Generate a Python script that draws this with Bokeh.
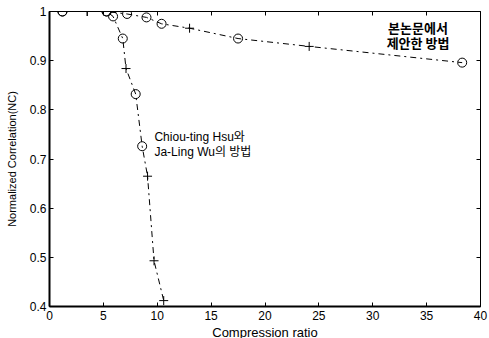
from bokeh.plotting import figure
from bokeh.models import ColumnDataSource, LinearAxis, FixedTicker, Range1d, CustomLabelingPolicy
from bokeh.core.properties import value
from bokeh.embed import file_html
from bokeh.resources import INLINE

# Proposed method (본논문에서 제안한 방법)
prop_x = [1.2, 3.5, 5.3, 7.2, 9.0, 10.4, 13.0, 17.5, 24.1, 38.3]
prop_y = [1.0, 1.0, 1.0, 0.995, 0.988, 0.975, 0.966, 0.945, 0.929, 0.896]
prop_marker = ["circle", "cross", "circle", "circle", "circle", "circle", "cross", "circle", "cross", "circle"]

# Chiou-ting Hsu & Ja-Ling Wu method
hsu_x = [1.2, 3.5, 5.3, 5.9, 6.8, 7.1, 8.0, 8.6, 9.1, 9.7, 10.6]
hsu_y = [1.0, 1.0, 1.0, 0.99, 0.945, 0.884, 0.832, 0.726, 0.665, 0.493, 0.412]
hsu_marker = ["circle", "cross", "circle", "circle", "circle", "cross", "circle", "circle", "cross", "cross", "cross"]

x_ticks = [0, 5, 10, 15, 20, 25, 30, 35, 40]
y_ticks = [0.4, 0.5, 0.6, 0.7, 0.8, 0.9, 1.0]
y_tick_labels = {0.4: "0.4", 0.5: "0.5", 0.6: "0.6", 0.7: "0.7", 0.8: "0.8", 0.9: "0.9", 1.0: "1"}

FONT = "Liberation Sans"
MIXFONT = "Liberation Sans, Noto Sans CJK KR"
KFONT = "Noto Sans CJK KR"

p = figure(frame_width=431, frame_height=295, output_backend="svg", toolbar_location=None,
           x_range=Range1d(0, 40), y_range=Range1d(0.4, 1.0),
           min_border_left=49, min_border_right=8, min_border_top=9, min_border_bottom=34,
           background_fill_color="white", border_fill_color="white")
p.grid.visible = False
p.outline_line_color = "black"
p.outline_line_width = 1

p.xaxis.ticker = FixedTicker(ticks=x_ticks)
p.yaxis.ticker = FixedTicker(ticks=y_ticks)
p.yaxis.major_label_overrides = y_tick_labels
for ax in (p.xaxis[0], p.yaxis[0]):
    ax.major_tick_in = 4
    ax.major_tick_out = 0
    ax.minor_tick_line_color = None
    ax.axis_line_width = 2
    ax.major_label_text_font = FONT
    ax.major_label_text_font_size = "12px"
    ax.major_label_text_color = "black"
    ax.axis_label_text_font = FONT
    ax.axis_label_text_font_style = "normal"
    ax.axis_label_text_color = "black"
p.xaxis.axis_label = "Compression ratio"
p.yaxis.axis_label = "Normalized Correlation(NC)"
p.xaxis.axis_label_text_font_size = "13px"
p.yaxis.axis_label_text_font_size = "11px"
p.xaxis.major_label_standoff = 4
p.xaxis.axis_label_standoff = 2
p.yaxis.major_label_standoff = 3
p.yaxis.axis_label_standoff = 9

for side, tick in (("right", FixedTicker(ticks=y_ticks)), ("above", FixedTicker(ticks=x_ticks))):
    ax = LinearAxis(ticker=tick)
    ax.major_tick_in = 4
    ax.major_tick_out = 0
    ax.minor_tick_line_color = None
    ax.major_label_policy = CustomLabelingPolicy(code="for (const i of indices) indices.unset(i); return indices")
    ax.major_label_standoff = 0
    ax.axis_line_color = None
    p.add_layout(ax, side)

src1 = ColumnDataSource(dict(x=prop_x, y=prop_y, m=prop_marker))
src2 = ColumnDataSource(dict(x=hsu_x, y=hsu_y, m=hsu_marker))

for src in (src1, src2):
    p.line("x", "y", source=src, line_color="black", line_width=1, line_dash="dashdot")
    p.scatter("x", "y", source=src, marker="m", size=9, fill_color=None,
              line_color="black", line_width=1)

p.text(x=[9.74, 9.74], y=[0.744, 0.714], text=["Chiou-ting Hsu와", "Ja-Ling Wu의 방법"],
       text_font=value(MIXFONT), text_font_size="12px", text_color="black",
       text_baseline="middle", text_align="left")
p.text(x=[34.2, 34.2], y=[0.967, 0.937], text=["본논문에서", "제안한 방법"],
       text_font=value(KFONT), text_font_size="13px", text_font_style="bold",
       text_color="black", text_baseline="middle", text_align="center")

open("out.html", "w").write(file_html(p, INLINE))
